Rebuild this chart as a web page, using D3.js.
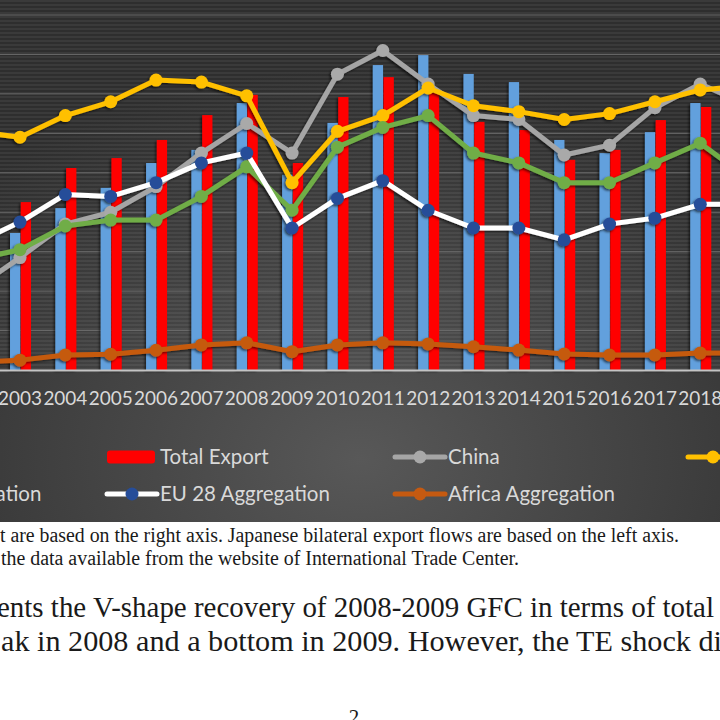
<!DOCTYPE html>
<html>
<head>
<meta charset="utf-8">
<script src="https://cdn.jsdelivr.net/npm/d3@7"></script>
<style>
  body { margin: 0; background: #fff; }
  svg { display: block; }
</style>
</head>
<body>
<div class="canvas"></div>
<script>
// years on the x axis (2002 and 2019 only show up as line stubs at the cut edges)
const years = [2002, 2003, 2004, 2005, 2006, 2007, 2008, 2009, 2010, 2011, 2012, 2013, 2014, 2015, 2016, 2017, 2018, 2019];

// bars, right axis (billion USD)
const totalImport = [337, 386, 456, 513, 583, 620, 752, 550, 696, 859, 887, 834, 811, 648, 611, 670, 752, 720];
const totalExport = [416, 473, 569, 597, 648, 718, 775, 583, 769, 825, 780, 699, 676, 592, 620, 704, 741, 705];

// lines, left axis (billion USD)
const china  = [41, 57, 74, 80, 93, 110, 125, 110, 150, 162, 145, 129, 127, 109, 114, 133, 145, 135];
const usa    = [121, 118, 129, 136, 147, 146, 139, 95, 121, 129, 143, 134, 131, 127, 130, 136, 142, 144];
const asean  = [56, 61, 73, 76, 76, 88, 103, 81, 113, 123, 129, 110, 105, 95, 95, 105, 115, 98];
const eu28   = [64, 75, 89, 88, 95, 105, 110, 72, 87, 96, 81, 72, 72, 66, 74, 77, 84, 84];
const africa = [4, 5, 7.6, 8, 10, 12.7, 13.8, 9.3, 12.7, 13.8, 13.2, 11.8, 10.1, 8.1, 7.6, 7.6, 8.6, 8.6];

const barSeries = [
  {name: 'Total Import', values: totalImport, color: '#62a0dd'},
  {name: 'Total Export', values: totalExport, color: '#ff0000'}
];
const lineSeries = [
  {name: 'China', values: china, color: '#a5a5a5', marker: '#a9a9a9'},
  {name: 'USA', values: usa, color: '#ffc000', marker: '#ffc000'},
  {name: 'ASEAN Aggregation', values: asean, color: '#70ad47', marker: '#70ad47'},
  {name: 'EU 28 Aggregation', values: eu28, color: '#ffffff', marker: '#264d99'},
  {name: 'Africa Aggregation', values: africa, color: '#c55a11', marker: '#c55a11'}
];

const width = 720;
const height = 720;
const chartBottom = 522;
const baseY = 370;

const svg = d3.select('.canvas')
  .append('svg')
    .attr('width', width)
    .attr('height', height);

const defs = svg.append('defs');

// dark background, lighter round the legend
const bg = defs.append('radialGradient')
  .attr('id', 'bg')
  .attr('cx', '50%').attr('cy', '88%').attr('r', '75%');
bg.append('stop').attr('offset', '0%').attr('stop-color', '#585858');
bg.append('stop').attr('offset', '100%').attr('stop-color', '#2e2e2e');

// fine horizontal stripes in the plot area
const stripes = defs.append('pattern')
  .attr('id', 'stripes')
  .attr('patternUnits', 'userSpaceOnUse')
  .attr('width', 8).attr('height', 4);
stripes.append('rect')
  .attr('width', 8).attr('height', 2)
  .attr('fill', 'rgba(255,255,255,0.06)');

const shadow = defs.append('filter')
  .attr('id', 'shadow')
  .attr('x', '-5%').attr('y', '-5%').attr('width', '110%').attr('height', '110%');
shadow.append('feDropShadow')
  .attr('dx', -1.5).attr('dy', 1.5)
  .attr('stdDeviation', 1.2)
  .attr('flood-color', '#000')
  .attr('flood-opacity', 0.6);

svg.append('rect')
  .attr('width', width)
  .attr('height', chartBottom)
  .attr('fill', 'url(#bg)');
svg.append('rect')
  .attr('width', width)
  .attr('height', baseY)
  .attr('fill', 'url(#stripes)');

//scales
const x = d3.scaleBand()
  .domain(years)
  .range([-48, -48 + years.length * 45.35]);
const x1 = d3.scaleBand()
  .domain(barSeries.map(s => s.name))
  .range([-10, 11])
  .paddingInner(0.05);
const yLeft = d3.scaleLinear()
  .domain([0, 180])
  .range([baseY, 15]);
const yRight = d3.scaleLinear()
  .domain([0, 1000])
  .range([baseY, 15]);

const cx = d => x(d) + x.bandwidth() / 2;

//gridlines from the left axis
svg.append('g')
  .selectAll('line')
  .data(yLeft.ticks(9).filter(d => d > 0))
  .join('line')
    .attr('x1', 0)
    .attr('x2', width)
    .attr('y1', d => yLeft(d))
    .attr('y2', d => yLeft(d))
    .attr('stroke', '#6a6a6a')
    .attr('stroke-width', 1);

//bars
const barGroup = svg.append('g').attr('filter', 'url(#shadow)');
barSeries.forEach(s => {
  barGroup.append('g')
    .selectAll('rect')
    .data(years.map((yr, i) => ({year: yr, value: s.values[i]})))
    .join('rect')
      .attr('x', d => cx(d.year) + x1(s.name))
      .attr('width', x1.bandwidth())
      .attr('y', d => yRight(d.value))
      .attr('height', d => baseY - yRight(d.value))
      .attr('fill', s.color);
});

//x axis (labels of the two edge years lie wholly outside the page, so skip them)
const xAxis = d3.axisBottom(x)
  .tickValues(years.slice(1, -1))
  .tickSize(0)
  .tickPadding(21);
const xAxisGroup = svg.append('g')
  .attr('transform', `translate(0, ${baseY})`)
  .call(xAxis);
xAxisGroup.select('.domain')
  .attr('stroke', '#c4c4c4')
  .attr('stroke-width', 2);
xAxisGroup.selectAll('text')
  .attr('fill', '#d9d9d9')
  .attr('textLength', 44)
  .attr('lengthAdjust', 'spacingAndGlyphs')
  .style('font-family', 'Lato, "Open Sans", sans-serif')
  .style('font-size', '19.5px');

//lines with markers
const line = d3.line()
  .x((d, i) => cx(years[i]))
  .y(d => yLeft(d));

const lineGroup = svg.append('g').attr('filter', 'url(#shadow)');
lineSeries.forEach(s => {
  const g = lineGroup.append('g');
  g.append('path')
    .attr('d', line(s.values))
    .attr('fill', 'none')
    .attr('stroke', s.color)
    .attr('stroke-width', 5)
    .attr('stroke-linejoin', 'round')
    .attr('stroke-linecap', 'round');
  g.selectAll('circle')
    .data(s.values)
    .join('circle')
      .attr('cx', (d, i) => cx(years[i]))
      .attr('cy', d => yLeft(d))
      .attr('r', 6.5)
      .attr('fill', s.marker);
});

//legend, four columns, two rows (first column is cut off by the page)
const legendCols = [-192, 107, 395, 688];
const legendRows = [457, 494];
const legendItems = [...barSeries.map(s => ({...s, type: 'bar'})), ...lineSeries.map(s => ({...s, type: 'line'}))];

const legend = svg.append('g')
  .selectAll('g')
  .data(legendItems)
  .join('g')
    .attr('transform', (d, i) => `translate(${legendCols[i % 4]}, ${legendRows[Math.floor(i / 4)]})`);

legend.filter(d => d.type === 'bar')
  .append('rect')
    .attr('x', 0).attr('y', -6.5)
    .attr('width', 48).attr('height', 13)
    .attr('rx', 3)
    .attr('fill', d => d.color);
legend.filter(d => d.type === 'line')
  .append('line')
    .attr('x1', 0).attr('x2', 50)
    .attr('stroke', d => d.color)
    .attr('stroke-width', 5)
    .attr('stroke-linecap', 'round');
legend.filter(d => d.type === 'line')
  .append('circle')
    .attr('cx', 25)
    .attr('r', 6.5)
    .attr('fill', d => d.marker);
legend.append('text')
  .attr('x', 53)
  .attr('y', 7)
  .attr('fill', '#d9d9d9')
  .style('font-family', 'Lato, "Open Sans", sans-serif')
  .style('font-size', '20.5px')
  .text(d => d.name);

//page text under the figure (the page is cropped at both sides)
const pageText = [
  {text: 't are based on the right axis. Japanese bilateral export flows are based on the left axis.', x: 0, end: 679, y: 542, size: 20},
  {text: 'the data available from the website of International Trade Center.', x: 1, end: 519, y: 565, size: 20},
  {text: 'ents the V-shape recovery of 2008-2009 GFC in terms of total', x: -3, end: 714, y: 617, size: 29},
  {text: 'ak in 2008 and a bottom in 2009. However, the TE shock di', x: 1, end: 722, y: 651, size: 29}
];

svg.append('g')
  .selectAll('text')
  .data(pageText)
  .join('text')
    .attr('x', d => d.x)
    .attr('y', d => d.y)
    .attr('textLength', d => d.end - d.x)
    .attr('lengthAdjust', 'spacingAndGlyphs')
    .attr('fill', '#1a1a1a')
    .style('font-family', '"Liberation Serif", "Times New Roman", serif')
    .style('font-size', d => d.size + 'px')
    .text(d => d.text);

svg.append('text')
  .attr('x', 354)
  .attr('y', 724)
  .attr('text-anchor', 'middle')
  .attr('fill', '#1a1a1a')
  .style('font-family', '"Liberation Serif", "Times New Roman", serif')
  .style('font-size', '21px')
  .text('2');
</script>
</body>
</html>
